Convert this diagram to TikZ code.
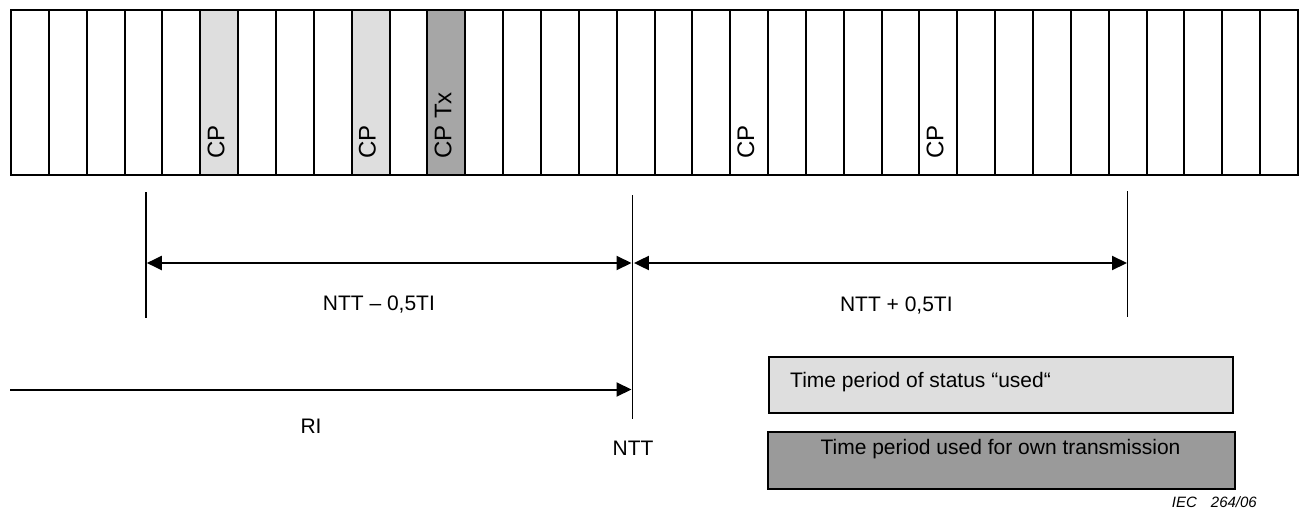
\documentclass[tikz,border=0pt]{standalone}
\usepackage{fontspec}
\setmainfont{Liberation Sans}
\usetikzlibrary{arrows.meta}
\definecolor{usedgray}{HTML}{DEDEDE}
\definecolor{txgray}{HTML}{A6A6A6}
\definecolor{legtx}{HTML}{9A9A9A}
\tikzset{
  cellbox/.style={draw=black, line width=2pt, minimum width=37.853pt, minimum height=165pt, inner sep=0pt, anchor=north west},
  cplabel/.style={rotate=90, anchor=base west, inner sep=0pt, font=\fontsize{24}{28}\selectfont},
  marker/.style={draw=black, line width=1.5pt},
  dimarrow/.style={draw=black, line width=2pt, -{Triangle[length=15pt,width=14pt]}},
  biarrow/.style={draw=black, line width=2pt, {Triangle[length=15pt,width=14pt]}-{Triangle[length=15pt,width=14pt]}},
  lbl/.style={anchor=base, inner sep=0pt, font=\fontsize{21}{25}\selectfont},
  legbox/.style={draw=black, line width=2pt, inner sep=0pt, anchor=north west},
  iec/.style={anchor=base east, inner sep=0pt, font=\fontsize{15}{18}\selectfont\itshape}
}
\begin{document}
\begin{tikzpicture}[x=1pt,y=-1pt]
\useasboundingbox (0,0) rectangle (1305,511);
% grid of time slots
\foreach \i in {0,...,33} {
  \pgfmathsetmacro{\xx}{10+\i*37.853}
  \ifnum\i=5 \def\cfill{usedgray}\else
  \ifnum\i=9 \def\cfill{usedgray}\else
  \ifnum\i=11 \def\cfill{txgray}\else \def\cfill{white}\fi\fi\fi
  \node[cellbox, fill=\cfill] (c\i) at (\xx,9) {};
}
\node[cplabel] (cp5) at ([xshift=25pt,yshift=17pt]c5.south west) {CP};
\node[cplabel] (cp9) at ([xshift=25pt,yshift=17pt]c9.south west) {CP};
\node[cplabel] (cp11) at ([xshift=25pt,yshift=17pt]c11.south west) {CP Tx};
\node[cplabel] (cp19) at ([xshift=25pt,yshift=17pt]c19.south west) {CP};
\node[cplabel] (cp24) at ([xshift=25pt,yshift=17pt]c24.south west) {CP};
% marker lines
\coordinate (Lt) at (146,192);
\coordinate (Lb) at (146,318);
\coordinate (Nt) at (632.7,195);
\coordinate (Nb) at (632.7,419);
\coordinate (Rt) at (1127.7,191);
\coordinate (Rb) at (1127.7,317);
\draw[marker] (Lt) -- (Lb);
\draw[marker] (Nt) -- (Nb);
\draw[marker] (Rt) -- (Rb);
% dimension arrows
\coordinate (a1l) at (146.8,263);
\coordinate (a1r) at (631.5,263);
\coordinate (a2l) at (633.9,263);
\coordinate (a2r) at (1127,263);
\draw[biarrow] (a1l) -- (a1r);
\draw[biarrow] (a2l) -- (a2r);
\coordinate (ri0) at (10,389.5);
\coordinate (ri1) at (631.5,389.5);
\draw[dimarrow] (ri0) -- (ri1);
% labels
\node[lbl] (lminus) at (378.9,310) {NTT – 0,5TI};
\node[lbl] (lplus) at (896.3,311) {NTT + 0,5TI};
\node[lbl] (lri) at (311,433) {RI};
\node[lbl] (lntt) at (633,455) {NTT};
% legend
\node[legbox, fill=usedgray, minimum width=464pt, minimum height=56pt] (leg1) at (768,356) {};
\node[legbox, fill=legtx, minimum width=467pt, minimum height=57pt] (leg2) at (767,431) {};
\node[lbl, anchor=base west] (leg1t) at (790,387) {Time period of status “used“};
\node[lbl] (leg2t) at (1000.5,454) {Time period used for own transmission};
\node[iec] (iec) at (1257,507) {IEC\hspace{14pt}264/06};
\end{tikzpicture}
\end{document}
